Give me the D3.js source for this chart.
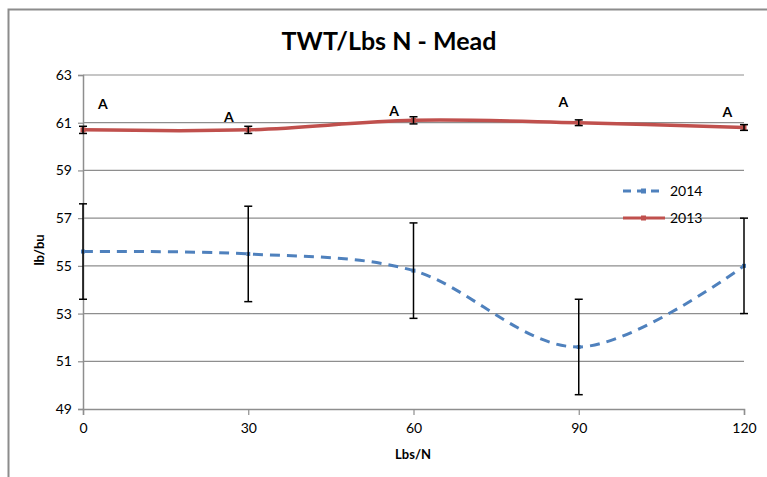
<!DOCTYPE html>
<html>
<head>
<meta charset="utf-8">
<script src="https://cdn.jsdelivr.net/npm/d3@7"></script>
<style>
  body { margin: 0; background: #fff; }
  svg { font-family: Lato, "Open Sans", sans-serif; }
</style>
</head>
<body>
<svg width="767" height="477"></svg>
<script>
// chart values
const rates = [0, 30, 60, 90, 120];
const twt2014 = [55.6, 55.5, 54.8, 51.6, 55.0];
const err2014 = [2.0, 2.0, 2.0, 2.0, 2.0];
const twt2013 = [60.7, 60.7, 61.1, 61.0, 60.8];
const err2013 = [0.15, 0.15, 0.15, 0.12, 0.12];
const yTicks = [49, 51, 53, 55, 57, 59, 61, 63];
const letters = ["A", "A", "A", "A", "A"];
const letterX = [3.6, 26.5, 56.5, 87.2, 117];
const letterY = [61.8, 61.25, 61.5, 61.85, 61.45];

const svg = d3.select("svg");
const width = 767, height = 477;
const margin = {top: 75, left: 83, right: 23, bottom: 68};

const x = d3.scaleLinear().domain([0, 120]).range([margin.left, width - margin.right]);
const y = d3.scaleLinear().domain([49, 63]).range([height - margin.bottom, margin.top]);

// outer chart frame
svg.append("path")
    .attr("d", `M8.5,${height} V9.5 H${width}`)
    .attr("fill", "none")
    .attr("stroke", "#8c8c8c")
    .attr("stroke-width", 2);

// gridlines
svg.append("g")
    .selectAll("line")
    .data(yTicks.slice(1))
    .join("line")
    .attr("x1", x(0)).attr("x2", x(120))
    .attr("y1", d => y(d)).attr("y2", d => y(d))
    .attr("stroke", "#8e8e8e")
    .attr("stroke-width", 1.2);

// axes
const yAxis = svg.append("g")
    .attr("transform", `translate(${x(0)},0)`)
    .call(d3.axisLeft(y).tickValues(yTicks).tickSize(5).tickPadding(6));
const xAxis = svg.append("g")
    .attr("transform", `translate(0,${y(49)})`)
    .call(d3.axisBottom(x).tickValues(rates).tickSize(6).tickPadding(8));
[yAxis, xAxis].forEach(a => {
    a.select(".domain").attr("stroke", "#8e8e8e").attr("stroke-width", 1.5);
    a.selectAll(".tick line").attr("stroke", "#8e8e8e").attr("stroke-width", 1.2);
    a.selectAll("text").attr("font-size", 14).attr("fill", "#000")
        .attr("font-family", "Lato, sans-serif");
});

const curve = d3.curveCardinal.tension(0);

function drawSeries(vals, errs, color, dash, lw, ms) {
    const pts = rates.map((r, i) => [r, vals[i]]);
    svg.append("path")
        .datum(pts)
        .attr("fill", "none")
        .attr("stroke", color)
        .attr("stroke-width", lw)
        .attr("stroke-dasharray", dash)
        .attr("d", d3.line().x(d => x(d[0])).y(d => y(d[1])).curve(curve));

    svg.append("g")
        .selectAll("rect")
        .data(pts)
        .join("rect")
        .attr("x", d => x(d[0]) - ms / 2).attr("y", d => y(d[1]) - ms / 2)
        .attr("width", ms).attr("height", ms)
        .attr("fill", color);

    const eb = svg.append("g").attr("stroke", "#000").attr("stroke-width", 1.5);
    pts.forEach((d, i) => {
        const cx = x(d[0]), top = y(d[1] + errs[i]), bot = y(d[1] - errs[i]);
        eb.append("line").attr("x1", cx).attr("x2", cx).attr("y1", top).attr("y2", bot);
        eb.append("line").attr("x1", cx - 4).attr("x2", cx + 4).attr("y1", top).attr("y2", top);
        eb.append("line").attr("x1", cx - 4).attr("x2", cx + 4).attr("y1", bot).attr("y2", bot);
    });
}

drawSeries(twt2014, err2014, "#4f81bd", "10,7", 3, 4);
drawSeries(twt2013, err2013, "#c0504d", null, 3.5, 5);

// letters
svg.append("g")
    .selectAll("text")
    .data(letters)
    .join("text")
    .attr("x", (d, i) => x(letterX[i]))
    .attr("y", (d, i) => y(letterY[i]))
    .attr("text-anchor", "middle")
    .attr("dy", "0.35em")
    .attr("font-size", 14)
    .attr("font-weight", "bold")
    .text(d => d);

// legend
const legend = [
    {name: "2014", color: "#4f81bd", dash: "8,6"},
    {name: "2013", color: "#c0504d", dash: null}
];
const lg = svg.append("g").attr("transform", "translate(623,191)");
legend.forEach((d, i) => {
    const g = lg.append("g").attr("transform", `translate(0,${i * 27})`);
    g.append("line").attr("x1", 0).attr("x2", 42)
        .attr("stroke", d.color).attr("stroke-width", 3)
        .attr("stroke-dasharray", d.dash);
    g.append("rect").attr("x", 18).attr("y", -2.5).attr("width", 5).attr("height", 5).attr("fill", d.color);
    g.append("text").attr("x", 47).attr("dy", "0.35em")
        .attr("font-size", 14).text(d.name);
});

// title and axis labels
svg.append("text")
    .attr("x", 389).attr("y", 50)
    .attr("text-anchor", "middle")
    .attr("font-size", 25).attr("font-weight", "bold")
    .text("TWT/Lbs N - Mead");

svg.append("text")
    .attr("x", 413).attr("y", 459)
    .attr("text-anchor", "middle")
    .attr("font-size", 13).attr("font-weight", "bold")
    .text("Lbs/N");

svg.append("text")
    .attr("transform", "translate(44,250) rotate(-90)")
    .attr("text-anchor", "middle")
    .attr("font-size", 13).attr("font-weight", "bold")
    .text("lb/bu");
</script>
</body>
</html>
